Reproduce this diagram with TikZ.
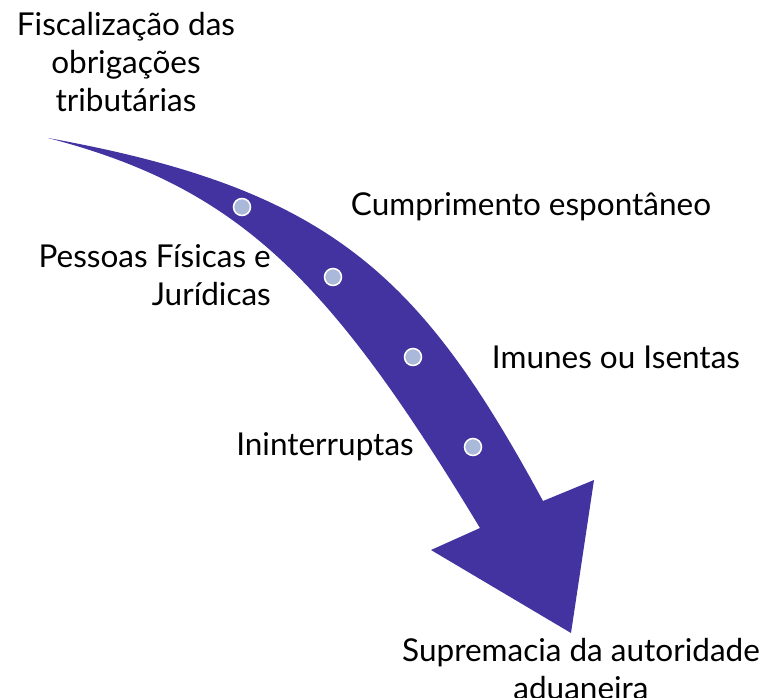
\documentclass[tikz,border=0pt]{standalone}
\usepackage{fontspec}
\setmainfont{Lato}
\usetikzlibrary{positioning}
\definecolor{corseta}{RGB}{67,51,160}
\definecolor{corponto}{RGB}{170,184,218}

\begin{document}
\begin{tikzpicture}[x=1pt, y=-1pt,
    rotulo/.style={font=\fontsize{31.5}{38}\selectfont, inner sep=0pt, align=center},
    marco/.style={circle, fill=corponto, draw=white, line width=1.5pt, minimum size=17pt, inner sep=0pt}]
    \useasboundingbox (0,0) rectangle (771,698);

    % Desenhar a seta curva
    \fill[corseta] (48,138) .. controls (330,189) and (420,274) .. (543,501)
        -- (594,480) -- (571,633) -- (431,550) -- (480,528)
        .. controls (330,280) and (240,188) .. (48,138) -- cycle;

    % Marcos sobre a seta
    \node [marco] (m1) at (242,207) {};
    \node [marco] (m2) at (333,277) {};
    \node [marco] (m3) at (413,357) {};
    \node [marco] (m4) at (473,447) {};

    % Rotulos
    \node [rotulo] (inicio) at (126,62) {Fiscalização das\\obrigações\\tributárias};
    \node [rotulo] (cumprimento) at (531,207) {Cumprimento espontâneo};
    \node [rotulo, align=right, anchor=east] (pessoas) at (271,275) {Pessoas Físicas e\\Jurídicas};
    \node [rotulo] (imunes) at (616,357) {Imunes ou Isentas};
    \node [rotulo] (ininterruptas) at (325,447) {Ininterruptas};
    \node [rotulo] (supremacia) at (581,669) {Supremacia da autoridade\\aduaneira};
\end{tikzpicture}
\end{document}
